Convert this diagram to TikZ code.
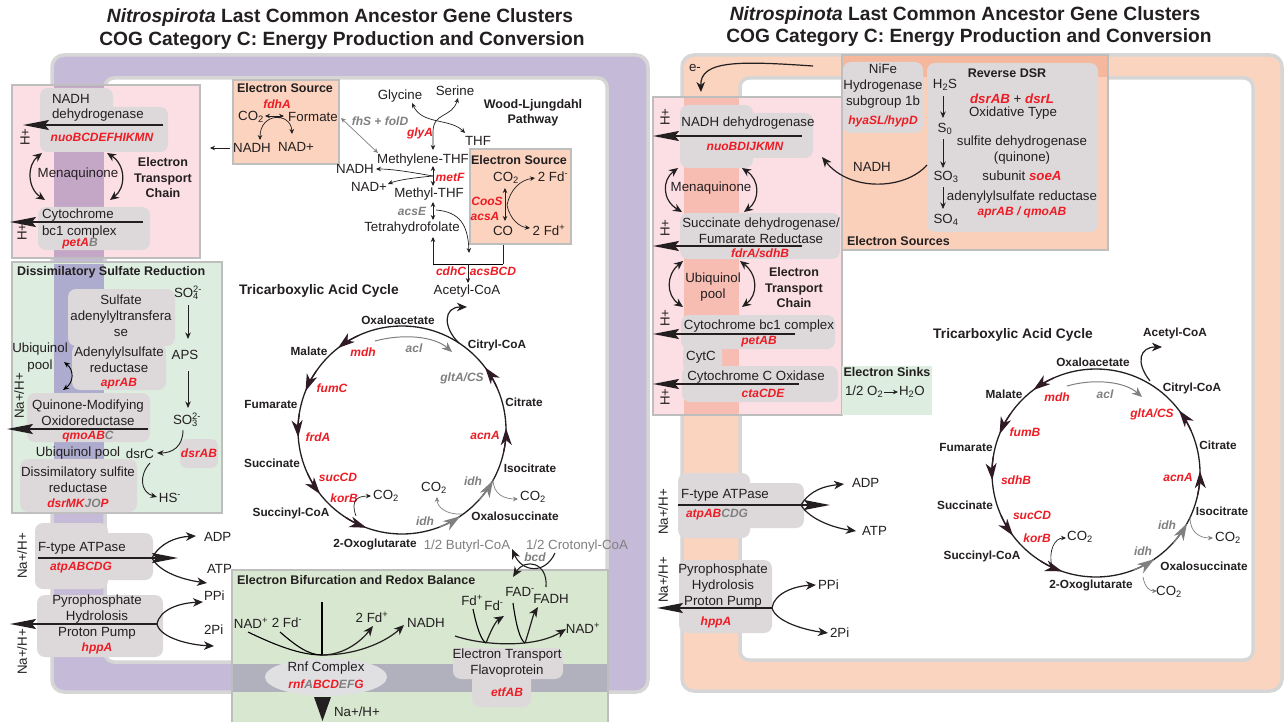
\documentclass[tikz,border=0pt]{standalone}
\usepackage{fontspec}
\setmainfont{Liberation Sans}
\usetikzlibrary{arrows.meta}
\definecolor{ink}{RGB}{35,31,32}
\definecolor{gred}{RGB}{237,28,36}
\definecolor{ggray}{RGB}{128,128,128}
\definecolor{memL}{RGB}{197,187,216}
\definecolor{memR}{RGB}{251,212,192}
\definecolor{medge}{RGB}{214,214,214}
\definecolor{bedge}{RGB}{190,190,190}
\definecolor{pinkc}{RGB}{251,223,229}
\definecolor{mauve}{RGB}{196,166,198}
\definecolor{dsrg}{RGB}{221,237,224}
\definecolor{bluish}{RGB}{173,171,206}
\definecolor{bifg}{RGB}{216,231,207}
\definecolor{grayband}{RGB}{176,177,188}
\definecolor{peach}{RGB}{251,211,190}
\definecolor{protc}{RGB}{221,217,219}
\definecolor{salmon}{RGB}{247,188,178}
\definecolor{esc}{RGB}{251,208,186}
\definecolor{esdark}{RGB}{246,184,156}
\definecolor{sinkc}{RGB}{221,237,224}
\definecolor{arr}{RGB}{48,26,38}
\definecolor{ellc}{RGB}{224,224,226}
\newcommand{\myfs}[2]{\fontsize{#1}{#2}\selectfont}
\newcommand{\gn}[1]{{\bfseries\itshape\color{gred}#1}}
\newcommand{\gy}[1]{{\color{ggray}#1}}
\newcommand{\subsup}[2]{\rlap{\textsubscript{#1}}\textsuperscript{#2}}
\newcommand{\cyctip}[5]{\draw[#5, line width=1.3pt, -{Stealth[length=17pt,width=11pt,inset=5pt]}] (#1,#2) ++({#4+13}:#3) arc[start angle={#4+13}, end angle={#4}, radius=#3];}
\tikzset{
  every node/.style={inner sep=0pt, outer sep=0pt, text=ink},
  tx/.style={font=\myfs{13.3}{16}},
  txc/.style={font=\myfs{13.3}{16}, align=center},
  met/.style={font=\bfseries\myfs{11.8}{14}},
  sect/.style={font=\bfseries\myfs{12.5}{15.5}},
  big/.style={font=\bfseries\myfs{13.8}{16}},
  ttl/.style={font=\bfseries\myfs{19.2}{22}},
  gene/.style={font=\bfseries\itshape\myfs{12}{14}, text=gred},
  ggene/.style={font=\bfseries\itshape\myfs{12}{14}, text=ggray},
  pump/.style={line width=1.4pt, draw=ink, -{Stealth[length=26pt,width=10pt,inset=4pt]}},
  sa/.style={line width=0.7pt, draw=ink, -{Stealth[length=5pt,width=4.5pt]}},
  sab/.style={line width=0.7pt, draw=ink, {Stealth[length=5pt,width=4.5pt]}-{Stealth[length=5pt,width=4.5pt]}},
  sa2/.style={line width=0.9pt, draw=ink, -{Stealth[length=6.5pt,width=5.5pt]}},
  ma/.style={line width=1.2pt, draw=ink, -{Stealth[length=10pt,width=8.5pt,inset=3pt]}},
  mab/.style={line width=1.2pt, draw=ink, {Stealth[length=9pt,width=8pt,inset=3pt]}-{Stealth[length=9pt,width=8pt,inset=3pt]}},
  prot/.style={fill=protc, rounded corners=8pt},
  boxe/.style={draw=bedge, line width=1.2pt}
}
\begin{document}
\begin{tikzpicture}[x=1pt,y=-1pt]
\useasboundingbox (0,0) rectangle (1285,722);
\fill[white] (0,0) rectangle (1285,722);
% ================= membranes
\draw[medge, line width=3.5pt, fill=memL, rounded corners=12pt] (52,55) rectangle (648,692);
\draw[medge, line width=3.5pt, fill=white, rounded corners=9pt] (105,78) rectangle (607,662);
\draw[medge, line width=3.5pt, fill=memR, rounded corners=12pt] (682,55) rectangle (1282,691);
\draw[medge, line width=3.5pt, fill=white, rounded corners=9pt] (740,78) rectangle (1253,660);
% ================= titles
\node[ttl] (tl1) at (340,18) {\textit{Nitrospirota} Last Common Ancestor Gene Clusters};
\node[ttl] (tl2) at (342,41) {COG Category C: Energy Production and Conversion};
\node[ttl] (tr1) at (965,16) {\textit{Nitrospinota} Last Common Ancestor Gene Clusters};
\node[ttl] (tr2) at (969,38) {COG Category C: Energy Production and Conversion};

% ================= LEFT: ETC
\draw[boxe, fill=pinkc] (12,85) rectangle (200,258);
\fill[mauve] (54,86.5) rectangle (104,256.5);
\fill[prot] (40,88) rectangle (113,152);
\fill[prot] (40,107) rectangle (168,152);
\node[tx, anchor=west] (nadhL) at (52,99) {NADH};
\node[tx, anchor=west] (dehL) at (52,115) {dehydrogenase};
\coordinate (nL1) at (163,125); \coordinate (nL0) at (23,125);
\draw[pump] (nL1) -- (nL0);
\node[gene] (nuoL) at (102,137) {nuoBCDEFHIKMN};
\node[tx, rotate=90] (hL1) at (25,137) {H+};
\node[tx] (mqL) at (78,174) {Menaquinone};
\draw[mab] (42,153) .. controls (27,165) and (27,188) .. (45,200);
\draw[mab] (107,153) .. controls (126,165) and (126,188) .. (110,200);
\fill[prot] (38,207) rectangle (150,250);
\node[tx, anchor=west] (cytL) at (42,215) {Cytochrome};
\node[tx, anchor=west] (bc1L) at (42,232) {bc1 complex};
\coordinate (cL1) at (143,222); \coordinate (cL0) at (10,222);
\draw[pump] (cL1) -- (cL0);
\node[gene] (petL) at (80,244) {petA\gy{B}};
\node[tx, rotate=90] (hL2) at (22,232) {H+};
\node[sect, align=center] (etcL) at (163,178) {Electron\\Transport\\Chain};
\draw[sa] (230,148) -- (210,148);

% ================= LEFT: DSR
\draw[boxe, fill=dsrg] (12,262) rectangle (222,513);
\fill[bluish] (54,263.5) rectangle (104,511.5);
\node[sect, anchor=west] (dsrT) at (17,272) {Dissimilatory Sulfate Reduction};
\fill[prot] (68,289) rectangle (175,346);
\node[txc] (sat) at (121,316) {Sulfate\\adenylyltransfera\\se};
\fill[prot] (72,344) rectangle (166,390);
\node[txc] (aprt) at (119,360) {Adenylylsulfate\\reductase};
\node[gene] (aprL) at (119,384) {aprAB};
\fill[prot] (27,393) rectangle (150,442);
\node[txc] (qmo) at (88,413) {Quinone-Modifying\\Oxidoreductase};
\node[gene] (qmoG) at (88,437) {qmoAB\gy{C}};
\coordinate (qL1) at (148,429); \coordinate (qL0) at (7,429);
\draw[pump] (qL1) -- (qL0);
\node[tx] (ubq1) at (40,349) {Ubiquinol};
\node[tx] (ubq2) at (40,366) {pool};
\draw[line width=0.9pt, {Stealth[length=6pt,width=5pt]}-{Stealth[length=6pt,width=5pt]}] (64,362) .. controls (74,370) and (74,382) .. (63,390);
\node[tx, rotate=90] (naL1) at (19,396) {Na+/H+};
\node[tx] (ubq3) at (78,453) {Ubiquinol pool};
\fill[prot] (20,459) rectangle (137,512);
\node[txc] (dsrr) at (78,480) {Dissimilatory sulfite\\reductase};
\node[gene] (dsrG) at (78,503) {dsrMK\gy{JO}P};
\node[tx] (so4L) at (188,293) {SO\subsup{4}{2-}};
\node[tx] (apsL) at (185,355) {APS};
\node[tx] (so3L) at (187,420) {SO\subsup{3}{2-}};
\draw[sa2] (188,305) -- (188,339);
\draw[sa2] (188,371) -- (188,408);
\fill[prot, rounded corners=7pt] (180,439) rectangle (218,468);
\node[gene] (dsrAB) at (199,453) {dsrAB};
\node[tx] (dsrC) at (140,454) {dsrC};
\draw[sa2] (183,430) .. controls (183,447) and (172,453) .. (157,453);
\draw[sa2] (150,463) .. controls (139,475) and (140,492) .. (157,497);
\node[tx] (hs) at (170,498) {HS\textsuperscript{-}};

% ================= LEFT: ATPase / PPase
\fill[prot] (35,523) rectangle (108,589);
\fill[prot] (35,533) rectangle (153,580);
\node[tx, anchor=west] (atpL) at (38,548) {F-type ATPase};
\node[gene] (atpLG) at (81,568) {atpABCDG};
\coordinate (aL0) at (38,558); \coordinate (aL1) at (178,558);
\draw[pump] (aL0) -- (aL1);
\draw[ma] (152,558) .. controls (160,543) and (176,537) .. (196,536);
\draw[ma] (152,558) .. controls (160,573) and (185,580) .. (207,583);
\node[tx, anchor=west] (adpL) at (204,537) {ADP};
\node[tx, anchor=west] (atpL2) at (207,569) {ATP};
\node[tx, rotate=90] (naL2) at (22,556) {Na+/H+};
\fill[prot] (37,595) rectangle (163,657);
\node[txc] (ppL) at (97,617) {Pyrophosphate\\Hydrolosis\\Proton Pump};
\node[gene] (hppL) at (97,648) {hppA};
\coordinate (pL1) at (157,624); \coordinate (pL0) at (10,624);
\draw[pump] (pL1) -- (pL0);
\draw[ma] (157,624) .. controls (160,609) and (180,603) .. (203,602);
\draw[ma] (157,624) .. controls (160,638) and (190,645) .. (214,646);
\node[tx, anchor=west] (ppiL) at (204,596) {PPi};
\node[tx, anchor=west] (piL) at (204,630) {2Pi};
\node[tx, rotate=90] (naL3) at (22,652) {Na+/H+};

% ================= LEFT: Electron source 1
\draw[boxe, fill=peach] (233,80) rectangle (339,164);
\node[sect] (es1) at (285,88) {Electron Source};
\node[gene] (fdh) at (277,104) {fdhA};
\node[tx] (co2a) at (251,117) {CO\textsubscript{2}};
\node[tx] (form) at (313,117) {Formate};
\draw[sab] (265,116) -- (284,116);
\draw[sab] (260,140) .. controls (260,112) and (291,112) .. (292,134);
\node[tx] (nadhA) at (252,148) {NADH};
\node[tx] (nadA) at (296,147) {NAD+};

% ================= LEFT: Wood-Ljungdahl
\draw[sab, draw=ggray] (341,118) -- (378,153);
\node[ggene] (fhs) at (380,121) {fhS + folD};
\node[tx] (gly) at (400,96) {Glycine};
\node[tx] (ser) at (455,91) {Serine};
\node[sect, align=center] (wl) at (533,113) {Wood-Ljungdahl\\Pathway};
\node[gene] (glyA) at (420,133) {glyA};
\node[tx] (thf) at (478,141) {THF};
\draw[sab] (412,103) .. controls (422,125) and (450,118) .. (465,133);
\draw[sab] (458,98) .. controls (452,118) and (433,112) .. (433,132) -- (433,150);
\node[tx] (mthf) at (423,160) {Methylene-THF};
\node[tx] (nadhW) at (355,169) {NADH};
\node[tx] (nadW) at (369,187) {NAD+};
\node[gene] (metF) at (450,177) {metF};
\node[tx] (methyl) at (429,194) {Methyl-THF};
\draw[sab] (433,166) -- (433,186);
\draw[sa] (433,176) .. controls (410,172) and (392,169) .. (376,169);
\draw[sa] (433,176) .. controls (412,178) and (398,180) .. (388,184);
\node[ggene] (acsE) at (412,211) {acsE};
\node[tx] (thfol) at (412,228) {Tetrahydrofolate};
\draw[sab] (433,202) -- (433,220);
\draw[sa] (436,210) .. controls (460,212) and (468,225) .. (469,253);
\draw[sa] (433,264) -- (433,237);
\draw[sa] (503,264) -- (503,238);
\draw[line width=0.7pt] (433,264) -- (503,264);
\draw[sa] (468,264) -- (468,283);
\node[gene] (cdhC) at (451,271) {cdhC};
\node[gene] (acsBCD) at (493,271) {acsBCD};
\node[tx] (acoaL) at (467,291) {Acetyl-CoA};

% ================= LEFT: Electron source 2
\draw[boxe, fill=peach] (470,149) rectangle (571,244);
\node[sect] (es2) at (519,160) {Electron Source};
\node[tx] (co2b) at (506,178) {CO\textsubscript{2}};
\node[tx] (fdm) at (553,177) {2 Fd\textsuperscript{-}};
\node[gene] (coos) at (487,201) {CooS};
\node[gene] (acsA) at (485,216) {acsA};
\node[tx] (co) at (503,231) {CO};
\node[tx] (fdp) at (549,230) {2 Fd\textsuperscript{+}};
\draw[sab] (505,188) -- (505,221);
\draw[sa] (507,205) .. controls (510,190) and (520,180) .. (535,178);
\draw[sa] (507,205) .. controls (510,220) and (520,227) .. (530,228);

% ================= LEFT: TCA
\node[big] (tcaL) at (319,291) {Tricarboxylic Acid Cycle};
\draw[line width=1.3pt, ink] (402,430) circle[radius=104];
\foreach \a in {232,202,176,142,110,-1,-37} {\cyctip{402}{430}{104}{\a}{arr}}
\foreach \a in {56,29} {\cyctip{402}{430}{104}{\a}{ggray}}
\node[met] (oxaL) at (398,320) {Oxaloacetate};
\node[met] (malL) at (309,351) {Malate};
\node[met] (fumL) at (271,404) {Fumarate};
\node[met] (sucL) at (272,463) {Succinate};
\node[met] (scoaL) at (291,513) {Succinyl-CoA};
\node[met] (oxgL) at (375,544) {2-Oxoglutarate};
\node[met] (oxsL) at (515,516) {Oxalosuccinate};
\node[met] (isoL) at (530,468) {Isocitrate};
\node[met] (citL) at (524,402) {Citrate};
\node[met] (ccoaL) at (497,345) {Citryl-CoA};
\node[gene] (mdhL) at (363,352) {mdh};
\node[gene] (fumCL) at (332,388) {fumC};
\node[gene] (frdL) at (318,437) {frdA};
\node[gene] (sucCDL) at (338,477) {sucCD};
\node[gene] (korL) at (344,498) {korB};
\node[gene] (acnL) at (485,435) {acnA};
\node[ggene] (gltL) at (462,378) {gltA/CS};
\node[ggene] (aclL) at (414,348) {acl};
\node[ggene] (idhL1) at (473,481) {idh};
\node[ggene] (idhL2) at (425,521) {idh};
\node[tx] (co2L1) at (386,496) {CO\textsubscript{2}};
\node[tx] (co2L2) at (434,488) {CO\textsubscript{2}};
\node[tx] (co2L3) at (533,497) {CO\textsubscript{2}};
\draw[sa] (356,516) .. controls (350,500) and (358,496) .. (371,496);
\draw[sa, draw=ggray] (462,514) .. controls (445,515) and (437,506) .. (437,497);
\draw[sa, draw=ggray] (493,479) .. controls (493,495) and (505,499) .. (518,499);
\draw[ma, draw=ggray, line width=1pt] (375,341) .. controls (405,333) and (435,337) .. (452,352);
\draw[ma] (459,343) .. controls (443,328) and (443,307) .. (467,307);
\node[tx, text=ggray] (buty) at (467,546) {1/2 Butyrl-CoA};
\node[tx, text=ggray] (crot) at (577,546) {1/2 Crotonyl-CoA};
\node[ggene] (bcd) at (535,557) {bcd};

% ================= LEFT: Bifurcation
\draw[boxe, fill=bifg] (232,570) rectangle (608,726);
\fill[grayband] (233,664) rectangle (607,692);
\draw[ma, line width=1.1pt] (555,553) .. controls (545,575) and (522,572) .. (512,549);
\draw[ma, line width=1.1pt] (546,587) .. controls (548,562) and (525,558) .. (513,577);
\node[sect, anchor=west] (bifT) at (237,580) {Electron Bifurcation and Redox Balance};
\fill[ellc] (326,677) ellipse [x radius=61, y radius=19];
\node[tx] (rnf) at (326,668) {Rnf Complex};
\node[gene] (rnfG) at (326,684) {rnf\gy{A}BCD\gy{EF}G};
\draw[line width=1.1pt] (322,602) -- (322,655);
\node[tx] (nadB) at (251,623) {NAD\textsuperscript{+}};
\node[tx] (fdB) at (287,623) {2 Fd\textsuperscript{-}};
\draw[line width=1.1pt] (248,632) .. controls (275,645) and (300,655) .. (322,655);
\draw[line width=1.1pt] (280,632) .. controls (295,645) and (308,655) .. (322,655);
\draw[ma] (322,655) .. controls (345,655) and (362,640) .. (373,626);
\draw[ma] (322,655) .. controls (360,655) and (388,640) .. (404,625);
\node[tx] (fdB2) at (372,617) {2 Fd\textsuperscript{+}};
\node[tx] (nadhB) at (426,623) {NADH};
\fill[ink] (314,697) -- (331,697) -- (322.5,721) -- cycle;
\node[tx, anchor=west] (naB) at (334,712) {Na+/H+};
\fill[prot] (453,648) rectangle (563,679);
\fill[prot] (472,670) rectangle (531,707);
\node[txc] (etf) at (507,663) {Electron Transport\\Flavoprotein};
\node[gene] (etfG) at (507,692) {etfAB};
\draw[ma] (455,636) .. controls (485,646) and (535,648) .. (566,629);
\draw[line width=1.1pt] (473,609) .. controls (477,628) and (481,640) .. (486,643);
\draw[ma] (486,643) .. controls (491,630) and (496,621) .. (504,616);
\draw[line width=1.1pt] (513,603) .. controls (516,625) and (520,640) .. (525,643);
\draw[ma] (525,643) .. controls (530,628) and (533,615) .. (538,607);
\node[tx] (fdp2) at (472,600) {Fd\textsuperscript{+}};
\node[tx] (fdm2) at (494,606) {Fd\textsuperscript{-}};
\node[tx] (fadm) at (520,592) {FAD\textsuperscript{-}};
\node[tx] (fadh) at (551,599) {FADH};
\node[tx] (nadB2) at (583,628) {NAD\textsuperscript{+}};

% ================= RIGHT: Electron sources
\draw[boxe, fill=esc] (842,55) rectangle (1108,250);
\fill[esdark] (843,56.5) rectangle (1107,77);
\fill[prot] (843,62) rectangle (923,133);
\node[txc] (nife) at (883,86) {NiFe\\Hydrogenase\\subgroup 1b};
\node[gene] (hya) at (883,121) {hyaSL/hypD};
\fill[prot] (927,63) rectangle (1098,232);
\node[sect] (rdsr) at (1007,73) {Reverse DSR};
\node[tx] (h2s) at (945,85) {H\textsubscript{2}S};
\node[tx] (s0) at (945,129) {S\textsubscript{0}};
\node[tx] (so3R) at (946,177) {SO\textsubscript{3}};
\node[tx] (so4R) at (946,220) {SO\textsubscript{4}};
\draw[sa2] (943,96) -- (943,118);
\draw[sa2] (943,139) -- (943,168);
\draw[sa2] (943,187) -- (943,209);
\node[tx] (dsrR) at (1012,99) {\gn{dsrAB} + \gn{dsrL}};
\node[tx] (oxt) at (1013,113) {Oxidative Type};
\node[txc] (sdh) at (1022,150) {sulfite dehydrogenase\\(quinone)};
\node[tx] (soe) at (1022,176) {subunit \gn{soeA}};
\node[tx] (adR) at (1022,197) {adenylylsulfate reductase};
\node[gene] (aprR) at (1022,212) {aprAB / qmoAB};
\node[sect, anchor=west] (esT) at (847,241) {Electron Sources};
\draw[ma] (813,66) .. controls (740,61) and (700,60) .. (701,92);
\node[tx] (em) at (695,68) {e-};

% ================= RIGHT: ETC
\draw[boxe, fill=pinkc] (653,97) rectangle (842,415);
\fill[salmon] (683.5,98) rectangle (739,414);
\draw[ma] (927,165) .. controls (905,190) and (850,192) .. (822,157);
\node[tx] (nadhR) at (872,167) {NADH};
\fill[prot] (680,105) rectangle (753,168);
\fill[prot] (680,113) rectangle (813,158);
\node[tx] (nadhdR) at (748,123) {NADH dehydrogenase};
\coordinate (nR1) at (802,136); \coordinate (nR0) at (653,136);
\draw[pump] (nR1) -- (nR0);
\node[gene] (nuoR) at (745,146) {nuoBDIJKMN};
\node[tx, rotate=90] (hR1) at (665,117) {H+};
\node[tx] (mqR) at (711,188) {Menaquinone};
\draw[mab] (678,168) .. controls (662,180) and (662,200) .. (682,212);
\draw[mab] (742,168) .. controls (760,180) and (760,200) .. (744,212);
\fill[prot] (680,213) rectangle (840,259);
\node[txc] (sdhR) at (761,231) {Succinate dehydrogenase/\\Fumarate Reductase};
\node[gene] (fdrR) at (760,253) {fdrA/sdhB};
\coordinate (sR1) at (802,246); \coordinate (sR0) at (653,246);
\draw[pump] (sR1) -- (sR0);
\node[tx, rotate=90] (hR2) at (665,228) {H+};
\node[txc] (ubqR) at (713,287) {Ubiquinol\\pool};
\draw[mab] (683,261) .. controls (666,275) and (666,295) .. (683,307);
\draw[mab] (740,261) .. controls (758,275) and (758,295) .. (742,307);
\node[sect, align=center] (etcR) at (794,288) {Electron\\Transport\\Chain};
\fill[prot, rounded corners=5pt] (683,345) rectangle (722,370);
\node[tx] (cytc) at (701,357) {CytC};
\fill[prot] (681,315) rectangle (835,349);
\node[tx] (bc1R) at (759,326) {Cytochrome bc1 complex};
\coordinate (bR1) at (795,334); \coordinate (bR0) at (653,334);
\draw[pump] (bR1) -- (bR0);
\node[gene] (petR) at (759,342) {petAB};
\node[tx, rotate=90] (hR3) at (665,318) {H+};
\fill[prot] (682,366) rectangle (838,402);
\node[tx] (oxR) at (756,377) {Cytochrome C Oxidase};
\coordinate (oR1) at (799,384); \coordinate (oR0) at (653,384);
\draw[pump] (oR1) -- (oR0);
\node[gene] (ctaR) at (763,393) {ctaCDE};
\node[tx, rotate=90] (hR4) at (665,397) {H+};
\fill[sinkc] (842,366) rectangle (932,415);
\node[sect] (sinkT) at (887,372) {Electron Sinks};
\node[tx, anchor=west] (o2) at (845,392) {1/2 O\textsubscript{2}};
\node[tx, anchor=west] (h2o) at (899,392) {H\textsubscript{2}O};
\draw[sa] ([xshift=1pt]o2.east) -- ([xshift=-1pt]h2o.west);

% ================= RIGHT: ATPase / PPase
\fill[prot] (678,473) rectangle (750,538);
\fill[prot] (678,483) rectangle (804,528);
\node[tx] (atpR) at (725,495) {F-type ATPase};
\node[gene] (atpRG) at (717,515) {atpAB\gy{CDG}};
\coordinate (aR0) at (678,505); \coordinate (aR1) at (830,505);
\draw[pump] (aR0) -- (aR1);
\draw[ma] (801,505) .. controls (810,490) and (825,486) .. (844,484);
\draw[ma] (801,505) .. controls (810,520) and (835,528) .. (856,531);
\node[tx, anchor=west] (adpR) at (852,483) {ADP};
\node[tx, anchor=west] (atpR2) at (862,531) {ATP};
\node[tx, rotate=90] (naR1) at (663,512) {Na+/H+};
\fill[prot] (679,560) rectangle (772,633);
\node[txc] (ppR) at (723,586) {Pyrophosphate\\Hydrolosis\\Proton Pump};
\node[gene] (hppR) at (716,622) {hppA};
\coordinate (pR1) at (772,608); \coordinate (pR0) at (657,608);
\draw[pump] (pR1) -- (pR0);
\draw[ma] (772,608) .. controls (774,593) and (795,586) .. (816,585);
\draw[ma] (772,608) .. controls (776,622) and (805,630) .. (828,633);
\node[tx, anchor=west] (ppiR) at (818,585) {PPi};
\node[tx, anchor=west] (piR) at (830,633) {2Pi};
\node[tx, rotate=90] (naR2) at (663,580) {Na+/H+};

% ================= RIGHT: TCA
\node[big] (tcaR) at (1013,335) {Tricarboxylic Acid Cycle};
\draw[line width=1.3pt, ink] (1096,473) circle[radius=104];
\foreach \a in {233,202,176,143,109,-1,-37} {\cyctip{1096}{473}{104}{\a}{arr}}
\foreach \a in {56,29} {\cyctip{1096}{473}{104}{\a}{ggray}}
\node[met] (acoaR) at (1175,333) {Acetyl-CoA};
\node[met] (oxaR) at (1093,362) {Oxaloacetate};
\node[met] (malR) at (1004,394) {Malate};
\node[met] (ccoaR) at (1192,388) {Citryl-CoA};
\node[met] (fumR) at (966,447) {Fumarate};
\node[met] (citR) at (1218,445) {Citrate};
\node[met] (sucR) at (965,505) {Succinate};
\node[met] (isoR) at (1222,511) {Isocitrate};
\node[met] (scoaR) at (982,556) {Succinyl-CoA};
\node[met] (oxsR) at (1204,566) {Oxalosuccinate};
\node[met] (oxgR) at (1091,585) {2-Oxoglutarate};
\node[gene] (mdhR) at (1057,397) {mdh};
\node[ggene] (aclR) at (1105,394) {acl};
\node[gene] (gltR) at (1152,414) {gltA/CS};
\node[gene] (fumBR) at (1025,432) {fumB};
\node[gene] (sdhBR) at (1016,480) {sdhB};
\node[gene] (acnR) at (1178,477) {acnA};
\node[gene] (sucCDR) at (1032,515) {sucCD};
\node[ggene] (idhR1) at (1167,525) {idh};
\node[gene] (korR) at (1037,538) {korB};
\node[ggene] (idhR2) at (1143,551) {idh};
\node[tx] (co2R1) at (1080,537) {CO\textsubscript{2}};
\node[tx] (co2R2) at (1228,538) {CO\textsubscript{2}};
\node[tx] (co2R3) at (1169,592) {CO\textsubscript{2}};
\draw[sa] (1052,567) .. controls (1048,550) and (1055,538) .. (1066,538);
\draw[sa, draw=ggray] (1190,517) .. controls (1190,533) and (1200,538) .. (1213,538);
\draw[sa, draw=ggray] (1143,577) .. controls (1145,588) and (1150,591) .. (1157,591);
\draw[ma, draw=ggray, line width=1pt] (1067,386) .. controls (1095,378) and (1125,382) .. (1142,397);
\draw[ma] (1150,381) .. controls (1135,362) and (1140,347) .. (1162,347);
\end{tikzpicture}
\end{document}
